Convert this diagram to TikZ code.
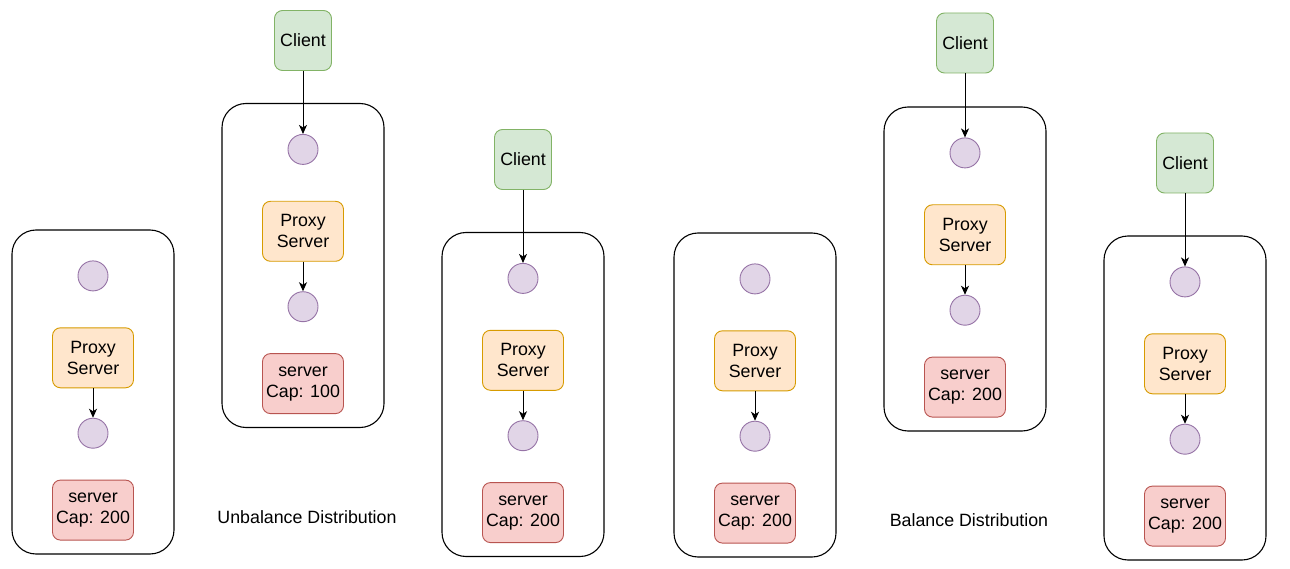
\documentclass[tikz,border=0pt]{standalone}
\usepackage{fontspec}
\setmainfont{Liberation Sans}
\usepackage{tikz}
\usetikzlibrary{positioning,arrows.meta}
\definecolor{clientfill}{HTML}{D5E8D4}
\definecolor{clientdraw}{HTML}{82B366}
\definecolor{proxyfill}{HTML}{FFE6CC}
\definecolor{proxydraw}{HTML}{D79B00}
\definecolor{serverfill}{HTML}{F8CECC}
\definecolor{serverdraw}{HTML}{B85450}
\definecolor{dotfill}{HTML}{E1D5E7}
\definecolor{dotdraw}{HTML}{9673A6}

\begin{document}
\begin{tikzpicture}[x=1pt,y=-1pt,
font=\fontsize{17.8pt}{21pt}\selectfont,
groupnode/.style={rectangle, rounded corners=24pt, draw=black, line width=1.1pt,
minimum width=162pt, minimum height=324pt, inner sep=0pt},
clientnode/.style={rectangle, rounded corners=8pt, draw=clientdraw, fill=clientfill, line width=0.9pt,
minimum width=57pt, minimum height=60pt, inner sep=0pt},
proxynode/.style={rectangle, rounded corners=8pt, draw=proxydraw, fill=proxyfill, line width=0.9pt,
minimum width=81pt, minimum height=60pt, inner sep=0pt, align=center},
servernode/.style={rectangle, rounded corners=8pt, draw=serverdraw, fill=serverfill, line width=0.9pt,
minimum width=81pt, minimum height=60pt, inner sep=0pt, align=center},
dotnode/.style={circle, draw=dotdraw, fill=dotfill, line width=0.9pt, minimum size=30pt, inner sep=0pt},
link/.style={line width=1pt, -{Stealth[length=9pt,width=8pt,inset=2.5pt]}}
]
\useasboundingbox (0,0) rectangle (1290,569);
%Groups
\node[groupnode] (box1) at (93,392)    {};
\node[groupnode] (box2) at (303,265.5) {};
\node[groupnode] (box3) at (523,394.5) {};
\node[groupnode] (box4) at (755,395)   {};
\node[groupnode] (box5) at (965,269)   {};
\node[groupnode] (box6) at (1185,398)  {};
%Nodes
\node[dotnode]    (in1)     [below=31pt of box1.north] {};
\node[proxynode]  (proxy1)  [below=36pt of in1]        {Proxy\\Server};
\node[dotnode]    (out1)    [below=29.5pt of proxy1]   {};
\node[servernode] (server1) [below=31pt of out1]       {server\\Cap: 200};

\node[clientnode] (client2) [above=32pt of box2.north] {Client};
\node[dotnode]    (in2)     [below=31pt of box2.north] {};
\node[proxynode]  (proxy2)  [below=36pt of in2]        {Proxy\\Server};
\node[dotnode]    (out2)    [below=29.5pt of proxy2]   {};
\node[servernode] (server2) [below=31pt of out2]       {server\\Cap: 100};

\node[clientnode] (client3) [above=42pt of box3.north] {Client};
\node[dotnode]    (in3)     [below=31pt of box3.north] {};
\node[proxynode]  (proxy3)  [below=36pt of in3]        {Proxy\\Server};
\node[dotnode]    (out3)    [below=29.5pt of proxy3]   {};
\node[servernode] (server3) [below=31pt of out3]       {server\\Cap: 200};

\node[dotnode]    (in4)     [below=31pt of box4.north] {};
\node[proxynode]  (proxy4)  [below=36pt of in4]        {Proxy\\Server};
\node[dotnode]    (out4)    [below=29.5pt of proxy4]   {};
\node[servernode] (server4) [below=31pt of out4]       {server\\Cap: 200};

\node[clientnode] (client5) [above=33pt of box5.north] {Client};
\node[dotnode]    (in5)     [below=31pt of box5.north] {};
\node[proxynode]  (proxy5)  [below=36pt of in5]        {Proxy\\Server};
\node[dotnode]    (out5)    [below=29.5pt of proxy5]   {};
\node[servernode] (server5) [below=31pt of out5]       {server\\Cap: 200};

\node[clientnode] (client6) [above=42pt of box6.north] {Client};
\node[dotnode]    (in6)     [below=31pt of box6.north] {};
\node[proxynode]  (proxy6)  [below=36pt of in6]        {Proxy\\Server};
\node[dotnode]    (out6)    [below=29.5pt of proxy6]   {};
\node[servernode] (server6) [below=31pt of out6]       {server\\Cap: 200};

%Labels
\node (unbal) at (307,517) {Unbalance Distribution};
\node (bal)   at (969,520) {Balance Distribution};

%Lines
\draw[link] (client2.south) -- (in2.north);
\draw[link] (client3.south) -- (in3.north);
\draw[link] (client5.south) -- (in5.north);
\draw[link] (client6.south) -- (in6.north);
\draw[link] (proxy1.south) -- (out1.north);
\draw[link] (proxy2.south) -- (out2.north);
\draw[link] (proxy3.south) -- (out3.north);
\draw[link] (proxy4.south) -- (out4.north);
\draw[link] (proxy5.south) -- (out5.north);
\draw[link] (proxy6.south) -- (out6.north);
\end{tikzpicture}
\end{document}
